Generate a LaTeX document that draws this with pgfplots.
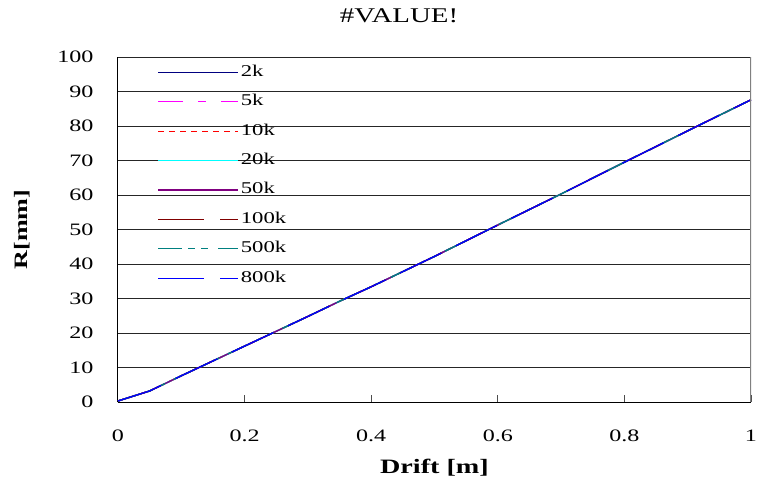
\documentclass[border=0pt]{standalone}
\usepackage{fontspec}
\setmainfont[FakeStretch=1.38]{Liberation Serif}
\usepackage{pgfplots}
\pgfplotsset{compat=1.18}
\usepackage{pgfplotstable}
\pgfplotstableread{
x y
0 0.3
0.05 3.2
0.1 7.6
0.2 16.2
0.3 24.8
0.35 29.2
0.4 33.4
0.5 42.2
0.6 51.3
0.7 60.3
0.8 69.5
0.9 78.6
1.0 87.6
}\datatbl
\definecolor{cnavy}{RGB}{0,0,128}
\definecolor{cmag}{RGB}{255,0,255}
\definecolor{cred}{RGB}{255,0,0}
\definecolor{ccyan}{RGB}{0,255,255}
\definecolor{cpurp}{RGB}{128,0,128}
\definecolor{cdred}{RGB}{128,0,0}
\definecolor{cteal}{RGB}{0,128,128}
\definecolor{cblue}{RGB}{0,0,255}
\begin{document}
\begin{tikzpicture}
\path[use as bounding box] (-118bp,-82bp) rectangle (646bp,402bp);
\begin{axis}[
  at={(0,0)}, anchor=south west,
  scale only axis, width=633bp, height=345bp,
  xmin=0, xmax=1, ymin=0, ymax=100,
  xtick={0,0.2,...,1}, ytick={0,10,...,100},
  xticklabels={0,0.2,0.4,0.6,0.8,1},
  axis x line*=bottom, axis y line*=left,
  axis line style={black, line width=1bp, -},
  ymajorgrids, grid style={black!85, line width=0.9bp},
  tick align=inside, major tick length=7bp,
  x tick style={black!70, line width=1bp},
  y tick style={draw=none},
  /pgf/number format/assume math mode=true,
  ticklabel style={font=\fontsize{17.5}{20}\selectfont},
  xticklabel style={yshift=-24bp},
  yticklabel style={xshift=-21bp},
  xlabel={\textbf{Drift [m]}},
  ylabel={\textbf{R[mm]}},
  xlabel style={font=\fontsize{20.5}{23}\selectfont, at={(0.5,0)}, anchor=center, yshift=-66bp},
  ylabel style={font=\fontsize{19}{22}\selectfont, at={(0,0.5)}, anchor=center, yshift=96bp},
  title={\#VALUE!},
  title style={font=\fontsize{21}{24}\selectfont, at={(0.444,1)}, anchor=center, yshift=35bp},
  legend cell align=left,
  legend style={draw=none, fill=none, at={(0.0575,0.985)}, anchor=north west,
    font=\fontsize{16.5}{19}\selectfont, row sep=13.4bp,
    nodes={inner sep=1bp, text height=11bp, text depth=3bp},
    /tikz/every odd column/.append style={column sep=1bp}},
  legend image code/.code={\draw[#1] (0bp,0bp) -- (80bp,0bp);},
]
\addplot[cnavy, line width=1.3bp] table {\datatbl};
\addlegendentry{2k}
\addplot[cmag, line width=1.3bp, dash pattern=on 25bp off 15bp on 8bp off 15bp] table {\datatbl};
\addlegendentry{5k}
\addplot[cred, line width=1.3bp, dash pattern=on 6bp off 5bp] table {\datatbl};
\addlegendentry{10k}
\addplot[ccyan, line width=1.3bp] table {\datatbl};
\addlegendentry{20k}
\addplot[cpurp, line width=1.3bp] table {\datatbl};
\addlegendentry{50k}
\addplot[cdred, line width=1.3bp, dash pattern=on 46bp off 16bp] table {\datatbl};
\addlegendentry{100k}
\addplot[cteal, line width=1.3bp, dash pattern=on 24bp off 6bp on 7bp off 6bp on 7bp off 10bp] table {\datatbl};
\addlegendentry{500k}
\addplot[cblue, line width=1.3bp, dash pattern=on 46bp off 16bp] table {\datatbl};
\addlegendentry{800k}
\draw[gray, line width=1.2bp] (rel axis cs:1,0) -- (rel axis cs:1,1);
\end{axis}
\end{tikzpicture}
\end{document}
